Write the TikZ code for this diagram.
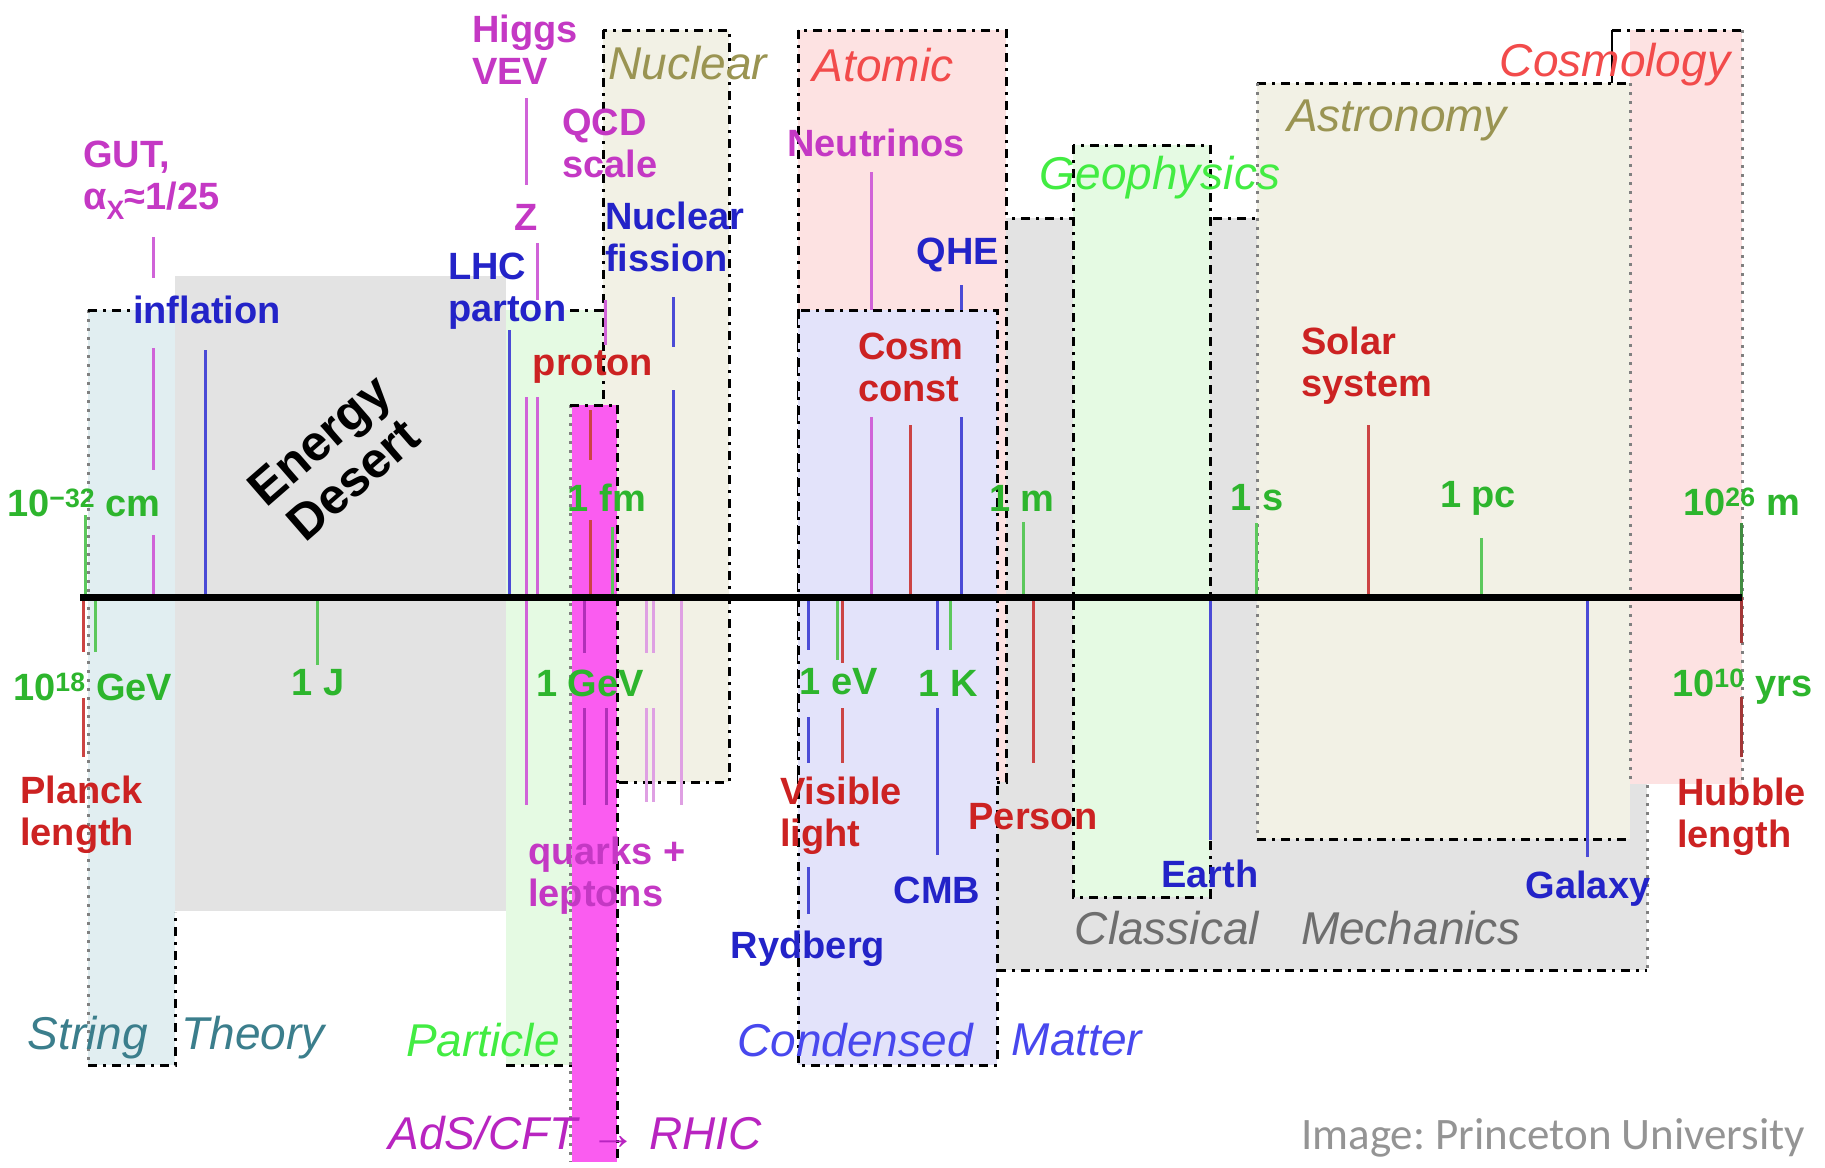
\documentclass[tikz,border=0pt]{standalone}
\usepackage{fontspec}
\setmainfont{Liberation Sans}
\newfontfamily\carlitofont{Carlito}
\definecolor{cMag}{HTML}{C438C4}
\definecolor{cBlue}{HTML}{2323C8}
\definecolor{cRed}{HTML}{CC2222}
\definecolor{cGreen}{HTML}{2DB52D}
\definecolor{tMag}{HTML}{D063D8}
\definecolor{tMagL}{HTML}{DFA0E3}
\definecolor{tMagD}{HTML}{B030B8}
\definecolor{tBlue}{HTML}{4B4BD6}
\definecolor{tRed}{HTML}{CC4444}
\definecolor{tGreen}{HTML}{5CC85C}
\definecolor{fGray}{HTML}{E3E3E3}
\definecolor{fCyan}{HTML}{E1EEF1}
\definecolor{fGreen}{HTML}{E5FAE3}
\definecolor{fBeige}{HTML}{F2F1E5}
\definecolor{fPink}{HTML}{FDE2E2}
\definecolor{fLav}{HTML}{E3E3FA}
\definecolor{fMagenta}{HTML}{FA5CF0}
\definecolor{rOlive}{HTML}{9A9452}
\definecolor{rRed}{HTML}{F24B4B}
\definecolor{rGreen}{HTML}{42EC42}
\definecolor{rGray}{HTML}{6E6E6E}
\definecolor{rTeal}{HTML}{3B7E8C}
\definecolor{rBlue}{HTML}{4848EE}
\definecolor{rMag}{HTML}{B824C0}
\begin{document}
\frenchspacing
\begin{tikzpicture}[x=1pt,y=-1pt,
  dbox/.style={draw=black, line width=3pt, dash pattern=on 9pt off 6pt on 3pt off 6pt},
  gbox/.style={draw=black!50, line width=3pt, dash pattern=on 3pt off 6pt},
  tk/.style={line width=3pt},
  lab/.style={font=\fontsize{38}{42}\selectfont\bfseries, inner sep=0pt, align=center},
  labl/.style={lab, align=left, anchor=west},
  reg/.style={font=\fontsize{46}{50}\selectfont\itshape, inner sep=0pt},
]
\path[use as bounding box, fill=white] (0,0) rectangle (1825,1167);

% ---------- regions ----------
% Classical mechanics
\fill[fGray] (997,218) rectangle (1647,970);
\draw[dbox] (997,218) -- (1647,218);
\draw[dbox] (997,970) -- (1647,970);
\draw[gbox] (1647,218) -- (1647,970);
% Energy desert
\fill[fGray] (175,276) rectangle (506,911);
% String theory
\fill[fCyan] (88,310) rectangle (175,1065);
\draw[gbox] (88,310) -- (88,1065);
\draw[dbox] (88,310) -- (130,310);
\draw[dbox] (88,1065) -- (175,1065) -- (175,912);
% Particle
\fill[fGreen] (506,310) rectangle (603,1065);
\draw[dbox] (570,310) -- (603,310);
\draw[dbox] (506,1065) -- (572,1065);
% Nuclear
\filldraw[fill=fBeige, dbox] (603,30) rectangle (729,782);
% Atomic
\filldraw[fill=fPink, dbox] (798,30) rectangle (1006,782);
% Condensed matter
\filldraw[fill=fLav, dbox] (798,310) rectangle (997,1065);
% Geophysics
\filldraw[fill=fGreen, dbox] (1073,145) rectangle (1210,897);
% Astronomy
\fill[fBeige] (1257,83) rectangle (1630,839);
\draw[dbox] (1257,83) -- (1630,83);
\draw[dbox] (1257,839) -- (1630,839);
\draw[gbox] (1257,83) -- (1257,839);
% Cosmology
\fill[fPink] (1630,30) rectangle (1742,784);
\draw[dbox] (1612,30) -- (1742,30);
\draw[line width=2pt] (1612,30) -- (1612,83);
\draw[gbox] (1742,30) -- (1742,784);
\draw[gbox] (1630,83) -- (1630,784);
% AdS/CFT strip
\fill[fMagenta] (572,405) rectangle (617,1162);
\draw[gbox] (570,405) -- (570,1162);
\draw[dbox] (617,405) -- (617,1162);
\draw[dbox] (570,405) -- (617,405);

% ---------- ticks above axis ----------
\draw[tk, tGreen] (85,515) -- (85,597);
\draw[tk, tMag] (153,237) -- (153,278) (153,348) -- (153,470) (153,535) -- (153,597);
\draw[tk, tBlue] (205,350) -- (205,597);
\draw[tk, tBlue] (509,330) -- (509,597);
\draw[tk, tMag] (526,98) -- (526,185) (526,397) -- (526,805);
\draw[tk, tMag] (537,243) -- (537,300) (537,397) -- (537,597);
\draw[tk, tMag] (605,300) -- (605,345);
\draw[tk, tBlue] (673,297) -- (673,347) (673,390) -- (673,597);
\draw[tk, tRed] (590,410) -- (590,460) (590,520) -- (590,597);
\draw[tk, tGreen] (612,527) -- (612,597);
\draw[tk, tMag] (871,172) -- (871,310) (871,417) -- (871,597);
\draw[tk, tBlue] (961,285) -- (961,310) (961,417) -- (961,597);
\draw[tk, tRed] (910,425) -- (910,597);
\draw[tk, tGreen] (1023,522) -- (1023,597);
\draw[tk, tGreen] (1256,523) -- (1256,597);
\draw[tk, tRed] (1368,425) -- (1368,597);
\draw[tk, tGreen] (1481,538) -- (1481,597);
\draw[tk, tGreen!70!black] (1741,523) -- (1741,597);

% ---------- ticks below axis ----------
\draw[tk, tRed] (83,597) -- (83,652) (83,698) -- (83,757);
\draw[tk, tGreen] (95,597) -- (95,652);
\draw[tk, tGreen] (317,597) -- (317,665);
\draw[tk, tMagL] (646,597) -- (646,653) (646,708) -- (646,802);
\draw[tk, tMagL] (653,597) -- (653,653) (653,708) -- (653,802);
\draw[tk, tMagL] (681,597) -- (681,805);
\draw[tk, tMagD] (584,600) -- (584,653) (584,708) -- (584,805);
\draw[tk, tMagD] (606,708) -- (606,805);
\draw[tk, tBlue] (808,597) -- (808,650) (808,717) -- (808,763) (808,867) -- (808,914);
\draw[tk, tGreen] (837,597) -- (837,660);
\draw[tk, tRed] (842,600) -- (842,663) (842,708) -- (842,763);
\draw[tk, tBlue] (937,597) -- (937,650) (937,708) -- (937,855);
\draw[tk, tGreen] (950,597) -- (950,650);
\draw[tk, tRed] (1033,597) -- (1033,763);
\draw[tk, tBlue] (1210,597) -- (1210,840);
\draw[tk, tBlue] (1587,597) -- (1587,857);
\draw[tk, tRed!80!black] (1741,597) -- (1741,643) (1741,697) -- (1741,757);

% ---------- axis ----------
\coordinate (axL) at (80,597);
\coordinate (axR) at (1742,597);
\draw[line width=7pt] (axL) -- (axR);

% ---------- region labels ----------
\node[reg, text=rOlive] (nucR) at (688,63) {Nuclear};
\node[reg, text=rRed] (atoR) at (883,65) {Atomic};
\node[reg, text=rRed] (cosR) at (1615,65) {Cosmology};
\node[reg, text=rOlive] (astR) at (1397,120) {Astronomy};
\node[reg, text=rGreen] (geoR) at (1160,178) {Geophysics};
\node[reg, text=rGray] (claR) at (1167,928) {Classical};
\node[reg, text=rGray] (mecR) at (1411,928) {Mechanics};
\node[reg, text=rTeal] (strR) at (88,1038) {String};
\node[reg, text=rTeal] (theR) at (253,1038) {Theory};
\node[reg, text=rGreen] (parR) at (483,1040) {Particle};
\node[reg, text=rBlue] (conR) at (855,1040) {Condensed};
\node[reg, text=rBlue] (matR) at (1077,1040) {Matter};
\node[reg, text=rMag] (adsR) at (575,1133) {AdS/CFT → RHIC};
\node[rotate=41, font=\fontsize{50}{52}\selectfont\bfseries, align=center, inner sep=0pt] (desert) at (336,460) {Energy\\Desert};

% ---------- point labels ----------
\node[labl, text=cMag] (gut) at (83,180) {GUT,\\α\textsubscript{X}≈1/25};
\node[labl, text=cMag] (higgs) at (472,50) {Higgs\\VEV};
\node[labl, text=cMag] (qcd) at (562,143) {QCD\\scale};
\node[lab, text=cMag] (zb) at (526,217) {Z};
\node[labl, text=cBlue] (fission) at (605,237) {Nuclear\\fission};
\node[labl, text=cBlue] (lhc) at (448,291) {LHC\\parton};
\node[lab, text=cBlue] (infl) at (207,310) {inflation};
\node[lab, text=cRed] (proton) at (593,367) {proton};
\node[lab, text=cMag] (neut) at (876,143) {Neutrinos};
\node[lab, text=cBlue] (qhe) at (958,255) {QHE};
\node[labl, text=cRed] (cosm) at (858,367) {Cosm\\const};
\node[labl, text=cRed] (solar) at (1301,366) {Solar\\system};

\node[labl, text=cGreen] (lcm) at (7,503) {10\textsuperscript{−32} cm};
\node[lab, text=cGreen] (lfm) at (607,498) {1 fm};
\node[lab, text=cGreen] (lm) at (1022,498) {1 m};
\node[lab, text=cGreen] (ls) at (1257,498) {1 s};
\node[lab, text=cGreen] (lpc) at (1478,498) {1 pc};
\node[labl, text=cGreen] (lhub) at (1683,502) {10\textsuperscript{26} m};

\node[labl, text=cGreen] (lgev) at (13,687) {10\textsuperscript{18} GeV};
\node[lab, text=cGreen] (lj) at (318,683) {1 J};
\node[lab, text=cGreen] (l1gev) at (590,683) {1 GeV};
\node[lab, text=cGreen] (lev) at (839,682) {1 eV};
\node[lab, text=cGreen] (lk) at (948,683) {1 K};
\node[labl, text=cGreen] (lyrs) at (1672,687) {10\textsuperscript{10} yrs};

\node[labl, text=cRed] (planck) at (20,815) {Planck\\length};
\node[labl, text=cRed] (hubble) at (1677,817) {Hubble\\length};
\node[labl, text=cRed] (visible) at (780,816) {Visible\\light};
\node[lab, text=cRed] (person) at (1033,817) {Person};
\node[labl, text=cMag] (quarks) at (528,876) {quarks +\\leptons};
\node[lab, text=cBlue] (earth) at (1210,874) {Earth};
\node[lab, text=cBlue] (cmb) at (937,890) {CMB};
\node[lab, text=cBlue] (galaxy) at (1588,889) {Galaxy};
\node[lab, text=cBlue] (rydberg) at (808,949) {Rydberg};

\node[anchor=west, inner sep=0pt, font=\carlitofont\fontsize{45}{49}\selectfont, text=black!42] (credit) at (1301,1138) {Image: Princeton University};
\end{tikzpicture}
\end{document}
